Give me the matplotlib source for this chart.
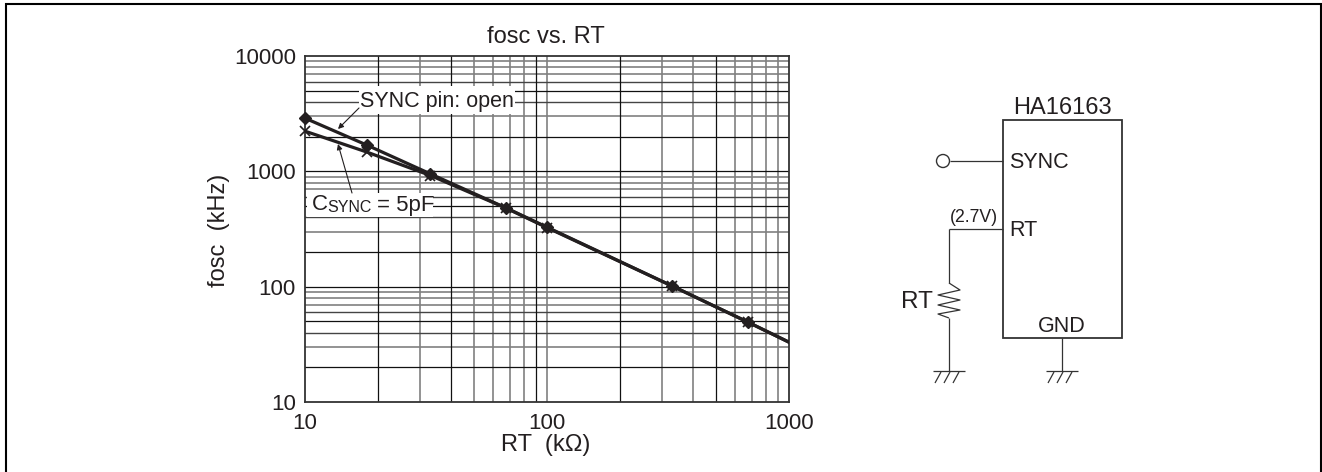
import matplotlib
matplotlib.use("Agg")
import matplotlib.pyplot as plt
from matplotlib.patches import Rectangle, Circle

plt.rcParams['font.family'] = ['Liberation Sans', 'DejaVu Sans']

W, H = 1322, 472
rt_values = [10, 18, 33, 68, 100, 330, 680, 1000]
fosc_open = [2890, 1690, 950, 480, 328, 101, 49, 33]
fosc_sync = [2230, 1470, 920, 478, 325, 101, 49, 33]
rt_marked = [10, 18, 33, 68, 100, 330, 680]
title = "fosc vs. RT"
xlabel = "RT  (k\u03a9)"
ylabel = "fosc  (kHz)"
x_ticks = [10, 100, 1000]
y_ticks = [10, 100, 1000, 10000]
x_black = [20, 40, 90, 200, 500]
x_grey = [30, 50, 60, 70, 80, 100, 300, 400, 600, 700, 800, 900]
y_black = [20, 50, 100, 200, 500, 1000, 2000, 5000]
y_dark = [40, 60, 400, 600, 4000, 6000]
y_grey = [30, 70, 80, 90, 300, 700, 800, 900, 3000, 7000, 8000, 9000]
INK = "#231f20"
DARK = "#333333"
GREY = "#808080"

fig = plt.figure(figsize=(W/100, H/100), dpi=100)
bg = fig.add_axes([0, 0, 1, 1])
bg.set_xlim(0, W); bg.set_ylim(H, 0); bg.axis("off")
bg.plot([6, 6, 1321, 1321], [H, 4, 4, H], color="black", lw=1.5, solid_joinstyle="miter")

L, R, T, B = 305, 789, 56, 402
ax = fig.add_axes([L/W, 1-B/H, (R-L)/W, (B-T)/H])
ax.set_xscale("log"); ax.set_yscale("log")
ax.set_xlim(10, 1000); ax.set_ylim(10, 10000)
for v in x_grey:
    ax.axvline(v, color=GREY, lw=1.2, zorder=1)
for v in y_grey:
    ax.axhline(v, color=GREY, lw=1.2, zorder=1)
for v in y_dark:
    ax.axhline(v, color="#444444", lw=1.0, zorder=1.5)
for v in x_black:
    ax.axvline(v, color="#111111", lw=0.9, zorder=2)
for v in y_black:
    ax.axhline(v, color="#111111", lw=0.9, zorder=2)
ax.minorticks_off()
ax.tick_params(which="both", length=0, labelsize=16, colors=INK)
ax.tick_params(axis="x", pad=8)
ax.tick_params(axis="y", pad=6.5)
ax.set_xticks(x_ticks); ax.set_xticklabels([str(v) for v in x_ticks])
ax.set_yticks(y_ticks); ax.set_yticklabels([str(v) for v in y_ticks])
for s in ax.spines.values():
    s.set_linewidth(1.3); s.set_color(DARK)

def marked(ys):
    return [x for x in rt_values if x in rt_marked], [y for x, y in zip(rt_values, ys) if x in rt_marked]

ax.plot(rt_values, fosc_open, color=INK, lw=2.3, zorder=4)
ax.plot(rt_values, fosc_sync, color=INK, lw=2.3, zorder=4)
ax.plot(*marked(fosc_open), ls="", marker="D", ms=6, color=INK, clip_on=False, zorder=5)
ax.plot(*marked(fosc_sync), ls="", marker="x", ms=7.5, mew=1.2, color=INK, clip_on=False, zorder=5)

fig.text(546/W, 1-37/H, title, ha="center", va="center", fontsize=17, color=INK)
fig.text(546/W, 1-445/H, xlabel, ha="center", va="center", fontsize=17, color=INK)
fig.text(219/W, 1-230/H, ylabel, ha="center", va="center", rotation=90, fontsize=17, color=INK)

# overlay in pixel coordinates
ov = fig.add_axes([0, 0, 1, 1], facecolor="none")
ov.set_xlim(0, W); ov.set_ylim(H, 0); ov.axis("off")

ov.add_patch(Rectangle((359, 86), 156, 28, fc="white", ec="none"))
ov.text(437, 102, "SYNC pin: open", ha="center", va="center", fontsize=15.5, color=INK)
ov.add_patch(Rectangle((307, 193), 126, 24, fc="white", ec="none"))
ov.text(312, 205, "C", ha="left", va="center", fontsize=16, color=INK)
ov.text(327, 207, "SYNC", ha="left", va="center", fontsize=11.5, color=INK)
ov.text(377, 205, "= 5pF", ha="left", va="center", fontsize=16, color=INK)
ov.annotate("", xy=(338, 129), xytext=(359, 108),
            arrowprops=dict(arrowstyle="-|>", lw=0.8, color=INK, mutation_scale=8, shrinkA=0, shrinkB=0))
ov.annotate("", xy=(338, 144), xytext=(352, 193),
            arrowprops=dict(arrowstyle="-|>", lw=0.8, color=INK, mutation_scale=8, shrinkA=0, shrinkB=0))

# schematic
lw = 0.9
ov.add_patch(Rectangle((1003, 120), 119, 218, fill=False, ec=DARK, lw=1.3))
ov.add_patch(Circle((943, 161), 6.5, fill=False, ec=DARK, lw=1.0))
def seg(xs, ys, c=DARK, w=lw):
    ov.plot(xs, ys, color=c, lw=w, solid_capstyle="butt")
seg([950, 1003], [161, 161])
seg([949, 1003], [229, 229])
seg([949, 949], [229, 283])
seg([949, 960, 938, 960, 938, 960, 938, 949], [283, 290, 295, 300, 305, 310, 314, 318])
seg([949, 949], [318, 371])
seg([1062, 1062], [338, 371])
for cx in (949, 1062):
    seg([cx-16, cx+16], [371, 371])
    for dx in (-11, -2, 7):
        seg([cx+dx+3, cx+dx-3], [372, 383])
kw = dict(va="center", color=INK)
ov.text(1062, 108, "HA16163", ha="center", fontsize=17, **kw)
ov.text(1009, 162, "SYNC", ha="left", fontsize=15.5, **kw)
ov.text(1009, 231, "RT", ha="left", fontsize=15.5, **kw)
ov.text(974, 218, "(2.7V)", ha="center", fontsize=12.7, **kw)
ov.text(917, 302, "RT", ha="center", fontsize=17.5, **kw)
ov.text(1062, 327, "GND", ha="center", fontsize=15.5, **kw)

fig.savefig("out.png", dpi=100)
